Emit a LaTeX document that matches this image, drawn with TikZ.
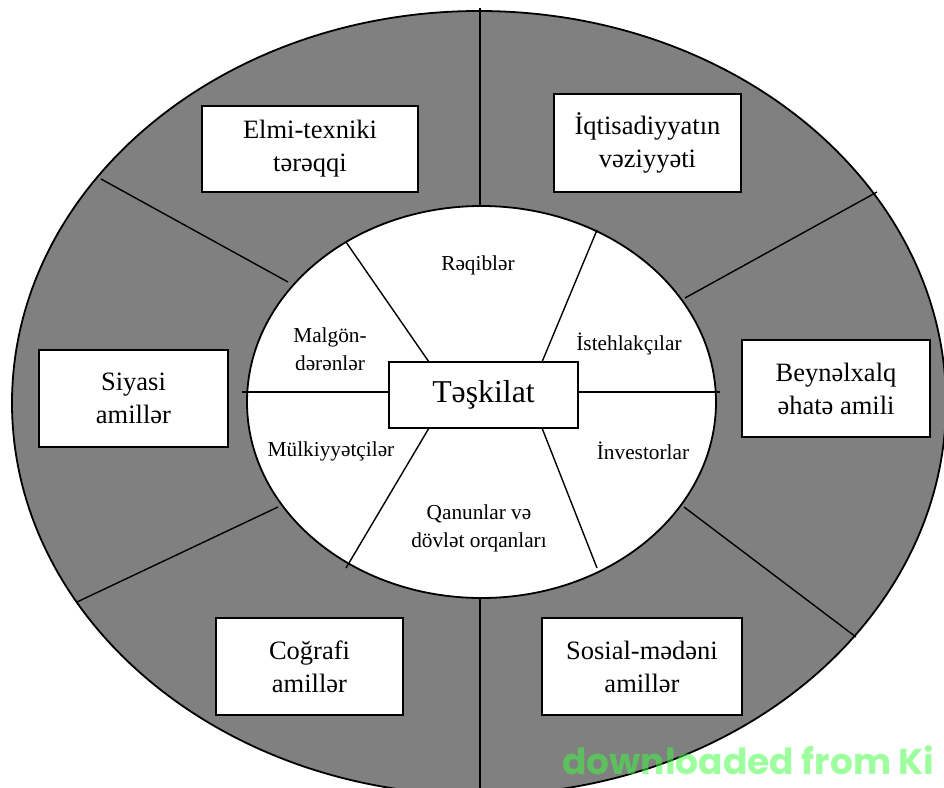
\documentclass[tikz,border=0pt]{standalone}
\usepackage{fontspec}
\setmainfont{Liberation Serif}
\newfontfamily\wmfont{Poppins}
\definecolor{ringgray}{RGB}{128,128,128}
\definecolor{wmgreen}{RGB}{60,255,60}
\begin{document}
\begin{tikzpicture}[x=1pt,y=-1pt,
  box/.style={draw=black, line width=1.7pt, fill=white, align=center, inner sep=0pt,
    font=\fontsize{26.5}{33}\selectfont},
  lab/.style={align=center, inner sep=0pt, font=\fontsize{21.3}{28}\selectfont},
  div/.style={line width=1.4pt}]
\useasboundingbox (0,0) rectangle (944,787);
\clip (0,0) rectangle (944,787);
\fill[white] (0,0) rectangle (944,787);
% rings
\draw[fill=ringgray, line width=1.8pt] (479,403) ellipse [x radius=467pt, y radius=392pt];
\draw[fill=white, line width=1.8pt] (481.5,402) ellipse [x radius=234.5pt, y radius=196pt];
% outer dividers
\coordinate (oT) at (480,8);
\coordinate (iT) at (480,206);
\coordinate (iB) at (480,598);
\coordinate (oB) at (480,800);
\coordinate (oUL) at (101,179);  \coordinate (iUL) at (288,282);
\coordinate (oUR) at (877,192);  \coordinate (iUR) at (685,298);
\coordinate (oLL) at (77,602);   \coordinate (iLL) at (278,507);
\coordinate (oLR) at (856,637);  \coordinate (iLR) at (684,507);
\draw[div] (oT) -- (iT);
\draw[div] (iB) -- (oB);
\draw[div] (oUL) -- (iUL);
\draw[div] (oUR) -- (iUR);
\draw[div] (oLL) -- (iLL);
\draw[div] (oLR) -- (iLR);
% central box
\node[box, minimum width=189pt, minimum height=66pt, font=\fontsize{31.8}{36}\selectfont] (T) at (483.5,395) {Təşkilat};
% inner dividers
\coordinate (eUL) at (346,242); \coordinate (tUL) at (429,362);
\coordinate (eUR) at (597,230); \coordinate (tUR) at (542,362);
\coordinate (eL) at (242,392);  \coordinate (tL) at (389,392);
\coordinate (eR) at (720,392);  \coordinate (tR) at (578,392);
\coordinate (eLL) at (346,568); \coordinate (tLL) at (429,428);
\coordinate (eLR) at (597,568); \coordinate (tLR) at (542,428);
\draw[div] (eUL) -- (tUL);
\draw[div] (eUR) -- (tUR);
\draw[div] (eL) -- (tL);
\draw[div] (eR) -- (tR);
\draw[div] (eLL) -- (tLL);
\draw[div] (eLR) -- (tLR);
% inner labels
\node[lab] (raq) at (478,265) {Rəqiblər};
\node[lab] (mal) at (330,349) {Malgön-\\dərənlər};
\node[lab] (ist) at (629,344) {İstehlakçılar};
\node[lab] (mul) at (331,451) {Mülkiyyətçilər};
\node[lab] (inv) at (643,451) {İnvestorlar};
\node[lab] (qan) at (479,528) {Qanunlar və\\dövlət orqanları};
% outer boxes
\node[box, minimum width=216pt, minimum height=86pt] (elmi) at (310,149) {Elmi-texniki\\tərəqqi};
\node[box, minimum width=187pt, minimum height=98pt] (iqt) at (647.5,143) {İqtisadiyyatın\\vəziyyəti};
\node[box, minimum width=189pt, minimum height=97pt] (siy) at (133.5,398.5) {Siyasi\\amillər};
\node[box, minimum width=188pt, minimum height=97pt] (bey) at (836,388.5) {Beynəlxalq\\əhatə amili};
\node[box, minimum width=187pt, minimum height=97pt] (cog) at (309.5,666.5) {Coğrafi\\amillər};
\node[box, minimum width=200pt, minimum height=97pt] (sos) at (642,666.5) {Sosial-mədəni\\amillər};
% watermark
\node[anchor=base west, inner sep=0pt, text=wmgreen, text opacity=0.5,
  font=\wmfont\bfseries\fontsize{36}{36}\selectfont] (wm) at (562,774) {downloaded from Ki};
\end{tikzpicture}
\end{document}
